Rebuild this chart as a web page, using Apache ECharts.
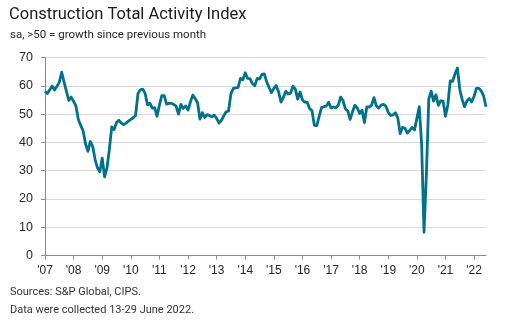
<!DOCTYPE html>
<html>
<head>
<meta charset="utf-8">
<script src="https://cdn.jsdelivr.net/npm/echarts/dist/echarts.min.js"></script>
<style>
  html, body { margin: 0; padding: 0; background: #ffffff; }
  #chart { width: 507px; height: 326px; }
</style>
</head>
<body>
<div id="chart"></div>
<script>
// UK construction PMI, total activity index, monthly (seasonally adjusted)
const idx2007 = [58.1, 57.3, 58.6, 59.9, 58.5, 59.8, 61.2, 64.8, 61.3, 58.0, 54.8, 56.0];
const idx2008 = [54.5, 52.8, 48.0, 46.0, 44.0, 39.5, 36.8, 40.3, 38.6, 34.0, 31.0, 29.6];
const idx2009 = [34.4, 27.8, 31.0, 37.5, 45.5, 44.5, 47.0, 47.8, 46.8, 46.3, 46.8, 47.5];
const idx2010 = [48.1, 48.7, 49.5, 57.3, 58.6, 58.8, 57.3, 53.3, 53.8, 52.1, 52.3, 49.2];
const idx2011 = [53.2, 56.5, 56.5, 53.5, 53.8, 53.8, 53.4, 52.8, 50.0, 53.4, 52.0, 52.9];
const idx2012 = [51.4, 54.3, 56.7, 55.5, 54.0, 48.2, 50.5, 48.8, 49.8, 49.5, 49.0, 49.6];
const idx2013 = [48.5, 46.8, 47.8, 49.4, 50.8, 51.1, 57.2, 59.1, 59.3, 59.4, 62.6, 62.1];
const idx2014 = [64.6, 62.6, 62.5, 60.8, 60.0, 62.6, 62.4, 64.0, 64.2, 61.4, 59.4, 57.6];
const idx2015 = [59.1, 60.1, 57.8, 54.2, 55.9, 58.1, 57.1, 57.3, 59.9, 58.8, 55.3, 57.8];
const idx2016 = [55.0, 54.2, 54.2, 52.0, 51.2, 46.0, 45.9, 49.2, 52.3, 52.6, 52.8, 54.2];
const idx2017 = [52.2, 52.5, 52.2, 53.1, 56.0, 54.8, 51.9, 51.1, 48.1, 50.8, 53.1, 52.2];
const idx2018 = [50.2, 51.4, 47.0, 52.5, 52.5, 53.1, 55.8, 52.9, 52.1, 53.2, 53.4, 52.8];
const idx2019 = [50.6, 49.5, 49.7, 50.5, 48.6, 43.1, 45.3, 45.0, 43.3, 44.2, 45.3, 44.4];
const idx2020 = [48.4, 52.6, 39.3, 8.2, 28.9, 55.3, 58.1, 54.6, 56.8, 53.1, 54.7, 54.6];
const idx2021 = [49.2, 53.3, 61.7, 61.6, 64.2, 66.3, 58.7, 55.2, 52.6, 54.6, 55.5, 54.3];
const idx2022 = [56.3, 59.1, 59.1, 58.2, 56.4, 52.6];

const yearlySeries = [idx2007, idx2008, idx2009, idx2010, idx2011, idx2012, idx2013, idx2014,
                      idx2015, idx2016, idx2017, idx2018, idx2019, idx2020, idx2021, idx2022];
const firstYear = 2007;

const yTicks = [0, 10, 20, 30, 40, 50, 60, 70];
const titleText = 'Construction Total Activity Index';
const subtitleText = 'sa, >50 = growth since previous month';
const sourceText = 'Sources: S&P Global, CIPS.';
const noteText = 'Data were collected 13-29 June 2022.';

// Month categories, e.g. "2007-01"
const months = [];
const values = [];
yearlySeries.forEach((arr, i) => {
  arr.forEach((v, m) => {
    months.push((firstYear + i) + '-' + String(m + 1).padStart(2, '0'));
    values.push(v);
  });
});

const isJanuary = (index) => index % 12 === 0;
const yearLabel = (cat) => "'" + cat.slice(2, 4);

const chart = echarts.init(document.getElementById('chart'), null, { renderer: 'canvas' });

const textFont = 'Roboto';
const axisFont = '"Liberation Sans", Arial, sans-serif';

chart.setOption({
  animation: false,
  backgroundColor: '#ffffff',
  title: [
    { text: titleText, left: 9, top: 6, padding: 0,
      textStyle: { fontFamily: textFont, fontSize: 16.5, fontWeight: 'normal', color: '#1a1a1a' } },
    { text: subtitleText, left: 10, top: 29, padding: 0,
      textStyle: { fontFamily: textFont, fontSize: 11.5, fontWeight: 'normal', color: '#262626' } },
    { text: sourceText, left: 10, top: 287, padding: 0,
      textStyle: { fontFamily: textFont, fontSize: 11, fontWeight: 'normal', color: '#333333' } },
    { text: noteText, left: 10, top: 305, padding: 0,
      textStyle: { fontFamily: textFont, fontSize: 11, fontWeight: 'normal', color: '#333333' } }
  ],
  grid: { left: 45, right: 21, top: 57.5, bottom: 70.5, containLabel: false },
  xAxis: {
    type: 'category',
    data: months,
    boundaryGap: false,
    axisLine: { show: true, lineStyle: { color: '#8c8c8c', width: 1 } },
    axisTick: { show: true, length: 4, interval: (i) => isJanuary(i), lineStyle: { color: '#8c8c8c' } },
    axisLabel: {
      interval: (i) => isJanuary(i),
      formatter: (cat) => yearLabel(cat),
      margin: 9,
      color: '#262626', fontSize: 12, fontFamily: axisFont
    },
    splitLine: { show: false }
  },
  yAxis: {
    type: 'value',
    min: yTicks[0],
    max: yTicks[yTicks.length - 1],
    interval: 10,
    axisLine: { show: true, lineStyle: { color: '#8c8c8c', width: 1 } },
    axisTick: { show: true, length: 4, lineStyle: { color: '#8c8c8c' } },
    axisLabel: { margin: 12, color: '#262626', fontSize: 12.5, fontFamily: axisFont },
    splitLine: { show: true, lineStyle: { color: '#d9d9d9', width: 1 } }
  },
  series: [{
    type: 'line',
    data: values,
    showSymbol: false,
    symbol: 'none',
    smooth: false,
    lineStyle: { color: '#00708b', width: 2.8, join: 'round' },
    itemStyle: { color: '#00708b' }
  }]
});
</script>
</body>
</html>
